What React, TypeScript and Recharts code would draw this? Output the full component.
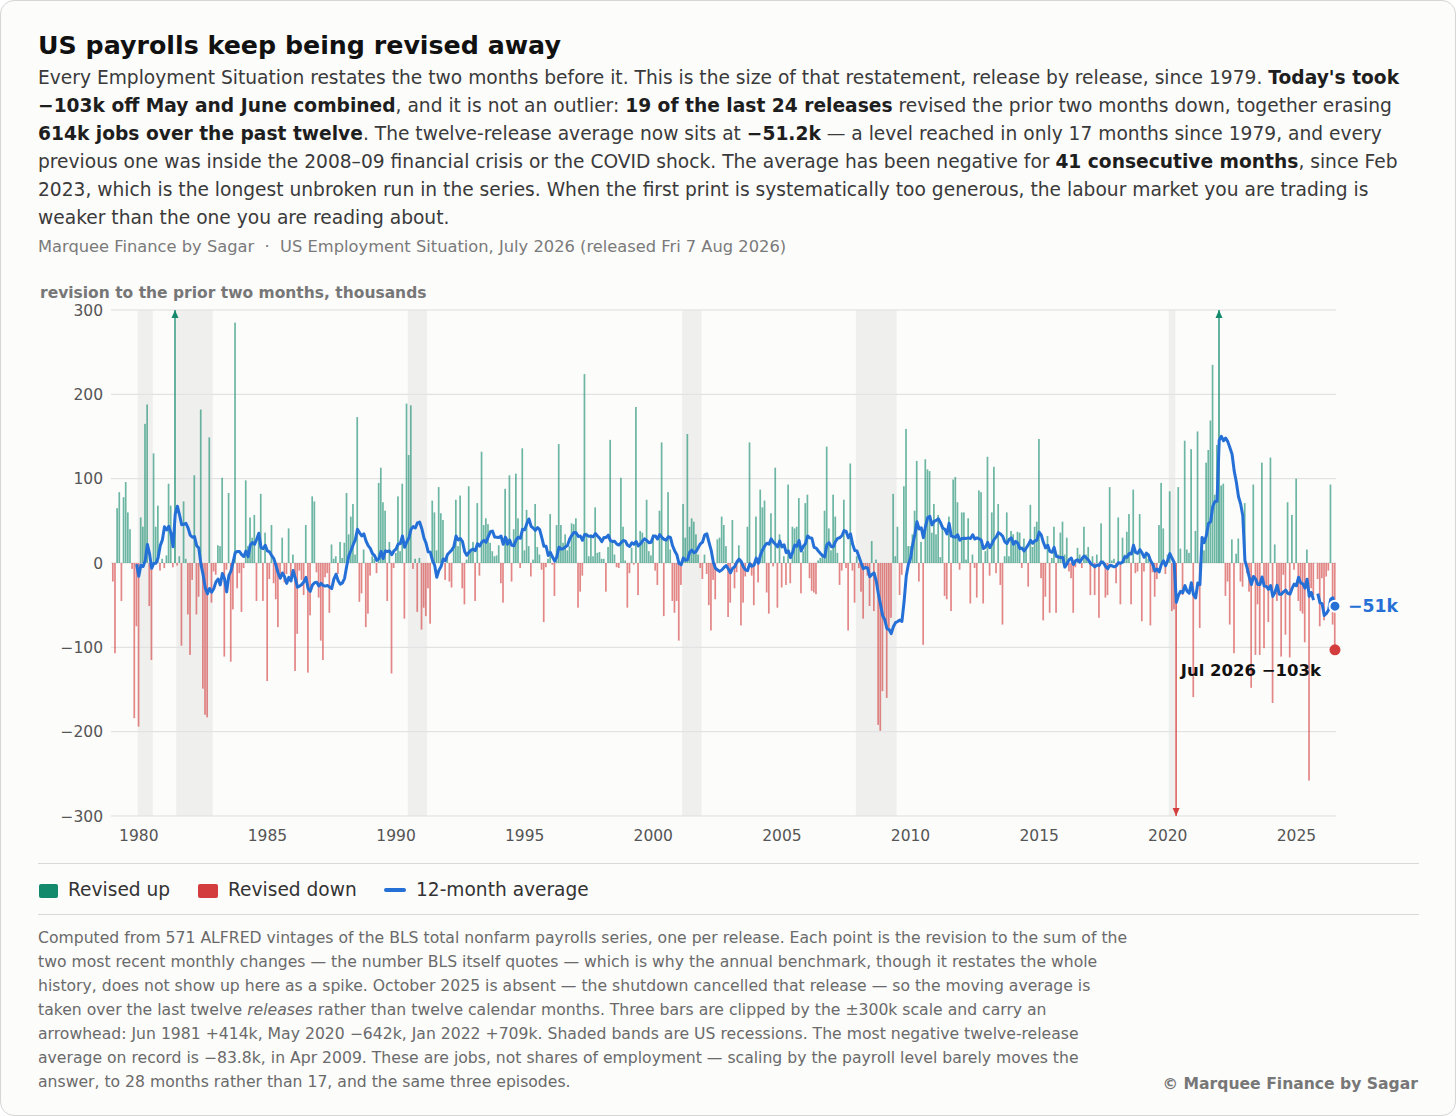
import React from 'react';
import {
  ComposedChart,
  Bar,
  Line,
  XAxis,
  YAxis,
  CartesianGrid,
  ReferenceArea,
  ReferenceDot,
} from 'recharts';

// Revision to the prior two months (thousands), one value per release month, Jan..Dec
const FIRST_YEAR = 1979;
const y1979 = [-22, -107, 65, 84, -45, 78, 96, 60, 40, -7, -184, -75];
const y1980 = [-194, 54, 43, 165, 188, -51, -115, 130, 43, 68, -9, 5];
const y1981 = [-6, 9, 94, 68, -5, 414, -3, 8, -98, 73, 5, -61];
const y1982 = [-109, -20, 104, -61, -40, 182, -149, -180, -183, 149, -47, -10];
const y1983 = [-14, 21, 20, 101, -111, -8, 83, -117, -55, 285, -30, -12];
const y1984 = [-58, -6, 98, 20, 54, 30, 57, -45, 30, 82, -45, 36];
const y1985 = [-140, -19, 45, -24, -43, -76, -18, 30, -23, -13, 41, -16];
const y1986 = [10, -128, -84, -9, -20, -38, 45, -130, -62, 79, 73, -11];
const y1987 = [-41, -92, -115, -17, -12, -59, 22, 5, 8, -13, 25, 6];
const y1988 = [24, 83, 34, 55, 70, 10, 173, -46, -36, 16, -76, -60];
const y1989 = [-15, 8, 5, -12, 95, 113, 72, 62, -45, 25, -131, -6];
const y1990 = [12, 79, 14, 94, -66, 189, 128, 187, -7, 5, -58, 6];
const y1991 = [-79, -53, -63, -30, -72, 74, 60, 15, 90, 59, 51, -20];
const y1992 = [10, -22, -29, 20, 75, 20, 80, -30, -49, 4, 91, 13];
const y1993 = [25, -45, 71, -15, 132, 45, 53, 46, 24, 14, 8, 9];
const y1994 = [21, -24, -47, 88, 30, 104, -22, 40, 106, 53, -6, 136];
const y1995 = [15, 63, 20, -16, 4, 70, 19, 10, -8, -70, -5, 5];
const y1996 = [58, -2, -39, 45, 141, 45, 24, 34, 15, 20, 47, 46];
const y1997 = [53, -53, -34, -15, 224, 36, 8, 34, 8, 66, 12, 13];
const y1998 = [5, 5, -34, 19, 146, 24, 10, -5, -6, 101, 43, 3];
const y1999 = [-53, -12, 18, -2, 185, -38, 38, 36, 25, 75, 14, 9];
const y2000 = [34, -9, -26, 62, 143, -63, 26, 84, 16, -45, -59, -45];
const y2001 = [-92, -26, 70, 30, 153, 43, 53, 49, 34, 10, -6, -19];
const y2002 = [10, -13, -50, -80, -20, -43, 28, 30, 55, 45, 20, -64];
const y2003 = [-47, 51, -30, -11, 21, -74, -47, -16, 43, 143, -15, -50];
const y2004 = [55, -23, 87, 66, 74, -35, -60, 59, -4, 113, -53, 34];
const y2005 = [-29, 8, -26, 93, -24, 43, 41, 43, 77, -36, 14, 71];
const y2006 = [81, -18, -33, -35, -37, 3, 6, 10, 62, 138, 41, 15];
const y2007 = [81, 55, 12, -26, -9, 75, -6, -80, 118, -9, -47, 8];
const y2008 = [-6, -34, -66, -7, -15, -51, 26, -57, 4, -192, -199, -152];
const y2009 = [-65, -160, -79, -65, 82, 8, 43, -38, -14, 91, 159, 20];
const y2010 = [20, 34, 62, 121, -22, 25, -97, 123, 111, 109, 36, 70];
const y2011 = [34, 57, 7, 45, -39, -43, 55, -57, 99, 102, 72, -8];
const y2012 = [60, 60, 4, 53, -48, 10, -6, -41, 86, 84, -48, 14];
const y2013 = [126, -15, 60, 114, -12, 70, -26, -73, 8, 60, 8, 38];
const y2014 = [34, 26, 37, 36, -6, 29, 19, -28, 69, 19, 43, 49];
const y2015 = [147, -18, -68, -40, 32, -59, 6, 43, -59, 10, 36, 49];
const y2016 = [10, 30, -10, -18, -59, -5, 18, 10, -6, 43, 10, 19];
const y2017 = [-38, 8, -38, 10, -65, 47, 3, -41, -38, 90, 3, 5];
const y2018 = [-24, 54, -49, 30, 10, 37, 58, -49, 87, -12, -10, 58];
const y2019 = [-69, -10, 10, 5, -74, -11, -40, -19, 45, 95, 41, -13];
const y2020 = [10, 85, -57, -55, -642, 90, 17, -38, 145, 16, 12, 135];
const y2021 = [-159, 38, 156, -77, 29, 15, 119, 134, 169, 235, 81, 140];
const y2022 = [709, 92, 94, -39, -22, -73, 28, -107, 11, 29, -22, -28];
const y2023 = [71, -12, -34, -148, 93, -109, -49, -109, 119, -101, -26, -70];
const y2024 = [125, -166, 22, -45, -34, -111, -14, -85, 72, -112, 57, -8];
const y2025 = [100, -45, -57, -60, -94, 16, -258, -30, -38, null, -19, -75];
const y2026 = [-18, -68, -16, -9, 93, -73, -103];

const yearRows: (number | null)[][] = [
  y1979, y1980, y1981, y1982, y1983, y1984, y1985, y1986, y1987, y1988, y1989,
  y1990, y1991, y1992, y1993, y1994, y1995, y1996, y1997, y1998, y1999,
  y2000, y2001, y2002, y2003, y2004, y2005, y2006, y2007, y2008, y2009,
  y2010, y2011, y2012, y2013, y2014, y2015, y2016, y2017, y2018, y2019,
  y2020, y2021, y2022, y2023, y2024, y2025, y2026,
];

const xTicks = [1980, 1985, 1990, 1995, 2000, 2005, 2010, 2015, 2020, 2025];
const yTicks = [-300, -200, -100, 0, 100, 200, 300];
const CLIP = 300;
const WINDOW = 12;

// US recessions (peak month, trough month)
const recessionStarts = ['1980-01', '1981-07', '1990-07', '2001-03', '2007-12', '2020-02'];
const recessionEnds = ['1980-07', '1982-11', '1991-03', '2001-11', '2009-06', '2020-04'];

const LATEST_LABEL = 'Jul 2026';

const GREEN = '#138a6c';
const RED = '#d43d3d';
const BLUE = '#2470d6';
const FONT = '"DejaVu Sans", Verdana, sans-serif';

const toT = (s: string) => {
  const [y, m] = s.split('-').map(Number);
  return y + (m - 1) / 12;
};

// Build the table: each release month with its value and twelve-release average
type Row = { t: number; v: number | null; avg: number | null };
const table: Row[] = [];
{
  const seen: number[] = [];
  yearRows.forEach((row, yi) => {
    row.forEach((v, mi) => {
      const t = FIRST_YEAR + yi + mi / 12;
      let avg: number | null = null;
      if (v !== null) {
        seen.push(v);
        if (seen.length >= WINDOW) {
          const last = seen.slice(-WINDOW);
          avg = last.reduce((a, b) => a + b, 0) / WINDOW;
        }
      }
      table.push({ t, v, avg });
    });
  });
}
const lastRow = table[table.length - 1];

const clampV = (d: Row) => (d.v === null ? null : Math.max(-CLIP, Math.min(CLIP, d.v)));

const fmtY = (v: number) => (v < 0 ? '\u2212' + Math.abs(v) : String(v));

const BarShape = (props: any) => {
  const { x, y, width, height, payload } = props;
  if (!payload || payload.v === null || payload.v === undefined) return null;
  if (![x, y, width, height].every((n) => Number.isFinite(n))) return null;
  const top = Math.min(y, y + height);
  const h = Math.abs(height);
  const up = payload.v >= 0;
  const col = up ? GREEN : RED;
  const clipped = Math.abs(payload.v) > CLIP;
  const cx = x + width / 2;
  return (
    <g>
      <rect x={x} y={top} width={width} height={h} fill={col} fillOpacity={clipped ? 0.75 : 0.62} />
      {clipped &&
        (up ? (
          <path d={`M${cx - 3.5},${top + 8} L${cx},${top} L${cx + 3.5},${top + 8} Z`} fill={col} />
        ) : (
          <path
            d={`M${cx - 3.5},${top + h - 8} L${cx},${top + h} L${cx + 3.5},${top + h - 8} Z`}
            fill={col}
          />
        ))}
    </g>
  );
};

const AvgDot = (props: any) => {
  const { cx, cy } = props;
  if (!Number.isFinite(cx) || !Number.isFinite(cy)) return null;
  const k = Math.round(lastRow.avg as number);
  return (
    <g>
      <circle cx={cx} cy={cy} r={5.5} fill={BLUE} stroke="#ffffff" strokeWidth={2} />
      <text x={cx + 13} y={cy} dy="0.36em" fill={BLUE} fontSize={17.3} fontWeight="bold" fontFamily={FONT}>
        {fmtY(k) + 'k'}
      </text>
    </g>
  );
};

const LatestDot = (props: any) => {
  const { cx, cy } = props;
  if (!Number.isFinite(cx) || !Number.isFinite(cy)) return null;
  return (
    <g>
      <circle cx={cx} cy={cy} r={5.5} fill={RED} />
      <text
        x={cx - 14}
        y={cy + 20}
        dy="0.36em"
        textAnchor="end"
        fill="#111"
        fontSize={16.5}
        fontWeight="bold"
        fontFamily={FONT}
      >
        {LATEST_LABEL + ' ' + fmtY(lastRow.v as number) + 'k'}
      </text>
    </g>
  );
};

const B = ({ children }: { children: React.ReactNode }) => (
  <b style={{ color: '#1e1e1e' }}>{children}</b>
);

const bodyLines: React.ReactNode[] = [
  <>
    Every Employment Situation restates the two months before it. This is the size of that restatement, release by release, since 1979. <B>Today's took</B>
  </>,
  <>
    <B>{'\u2212'}103k off May and June combined</B>, and it is not an outlier: <B>19 of the last 24 releases</B> revised the prior two months down, together erasing
  </>,
  <>
    <B>614k jobs over the past twelve</B>. The twelve-release average now sits at <B>{'\u2212'}51.2k</B> — a level reached in only 17 months since 1979, and every
  </>,
  <>
    previous one was inside the 2008–09 financial crisis or the COVID shock. The average has been negative for <B>41 consecutive months</B>, since Feb
  </>,
  <>2023, which is the longest unbroken run in the series. When the first print is systematically too generous, the labour market you are trading is</>,
  <>weaker than the one you are reading about.</>,
];

const noteLines: React.ReactNode[] = [
  <>Computed from 571 ALFRED vintages of the BLS total nonfarm payrolls series, one per release. Each point is the revision to the sum of the</>,
  <>two most recent monthly changes — the number BLS itself quotes — which is why the annual benchmark, though it restates the whole</>,
  <>history, does not show up here as a spike. October 2025 is absent — the shutdown cancelled that release — so the moving average is</>,
  <>
    taken over the last twelve <i>releases</i> rather than twelve calendar months. Three bars are clipped by the ±300k scale and carry an
  </>,
  <>arrowhead: Jun 1981 +414k, May 2020 {'\u2212'}642k, Jan 2022 +709k. Shaded bands are US recessions. The most negative twelve-release</>,
  <>average on record is {'\u2212'}83.8k, in Apr 2009. These are jobs, not shares of employment — scaling by the payroll level barely moves the</>,
  <>answer, to 28 months rather than 17, and the same three episodes.</>,
];

const abs = (left: number, top: number, extra: React.CSSProperties = {}): React.CSSProperties => ({
  position: 'absolute',
  left,
  top,
  whiteSpace: 'nowrap',
  ...extra,
});

export default function App() {
  return (
    <div
      style={{
        position: 'absolute',
        left: 0,
        top: 0,
        width: 1456,
        height: 1116,
        boxSizing: 'border-box',
        border: '1px solid #d6d6d6',
        borderRadius: 14,
        background: '#fcfcfb',
        fontFamily: FONT,
        overflow: 'hidden',
      }}
    >
      <div style={abs(37, 29, { fontSize: 25.3, lineHeight: '32px', fontWeight: 'bold', color: '#111' })}>
        US payrolls keep being revised away
      </div>
      {bodyLines.map((ln, i) => (
        <div key={i} style={abs(37, 63 + i * 28, { fontSize: 18.65, lineHeight: '28px', color: '#3a3a3a' })}>
          {ln}
        </div>
      ))}
      <div style={abs(37, 236, { fontSize: 16.3, lineHeight: '20px', color: '#7a7a7a' })}>
        Marquee Finance by Sagar{'\u00a0\u00a0·\u00a0\u00a0'}US Employment Situation, July 2026 (released Fri 7 Aug 2026)
      </div>
      <div style={abs(39, 283, { fontSize: 15.5, lineHeight: '18px', color: '#777', fontWeight: 'bold' })}>
        revision to the prior two months, thousands
      </div>

      <div style={{ position: 'absolute', left: 0, top: 270 }}>
        <ComposedChart
          width={1456}
          height={590}
          data={table}
          margin={{ top: 39, right: 121, bottom: 15, left: 50 }}
          barGap={0}
        >
          <CartesianGrid vertical={false} stroke="#dddddd" strokeWidth={1} />
          {recessionStarts.map((s, i) => (
            <ReferenceArea
              key={s}
              x1={toT(s) - 1 / 24}
              x2={toT(recessionEnds[i]) + 1 / 24}
              y1={-CLIP}
              y2={CLIP}
              fill="#e4e4e4"
              fillOpacity={0.55}
              stroke="none"
              ifOverflow="hidden"
            />
          ))}
          <XAxis
            type="number"
            dataKey="t"
            domain={[1978.92, 2026.54]}
            ticks={xTicks}
            interval={0}
            allowDataOverflow
            tickLine={false}
            axisLine={false}
            tickMargin={8}
            tick={{ fill: '#555', fontSize: 15.5 }}
            tickFormatter={(v: number) => String(v)}
          />
          <YAxis
            type="number"
            domain={[-CLIP, CLIP]}
            ticks={yTicks}
            interval={0}
            allowDataOverflow
            width={60}
            tickLine={false}
            axisLine={false}
            tick={{ fill: '#555', fontSize: 15.5 }}
            tickFormatter={fmtY}
          />
          <Bar dataKey={clampV} barSize={1.7} shape={BarShape} isAnimationActive={false} />
          <Line
            dataKey="avg"
            type="linear"
            stroke={BLUE}
            strokeWidth={3}
            dot={false}
            activeDot={false}
            connectNulls={false}
            strokeLinejoin="round"
            isAnimationActive={false}
          />
          <ReferenceDot x={lastRow.t} y={lastRow.v as number} r={5.5} shape={LatestDot} ifOverflow="visible" />
          <ReferenceDot x={lastRow.t} y={lastRow.avg as number} r={5.5} shape={AvgDot} ifOverflow="visible" />
        </ComposedChart>
      </div>

      <div style={{ position: 'absolute', left: 37, top: 862, width: 1381, height: 1, background: '#d9d9d9' }} />
      <div style={{ position: 'absolute', left: 38, top: 883, width: 19, height: 14, background: GREEN, borderRadius: 2 }} />
      <div style={abs(67, 879, { fontSize: 18.6, lineHeight: '20px', color: '#333' })}>Revised up</div>
      <div style={{ position: 'absolute', left: 197, top: 883, width: 20, height: 14, background: RED, borderRadius: 2 }} />
      <div style={abs(227, 879, { fontSize: 18.6, lineHeight: '20px', color: '#333' })}>Revised down</div>
      <div style={{ position: 'absolute', left: 383, top: 887, width: 22, height: 4, background: BLUE, borderRadius: 2 }} />
      <div style={abs(415, 879, { fontSize: 18.6, lineHeight: '20px', color: '#333' })}>12-month average</div>
      <div style={{ position: 'absolute', left: 37, top: 913, width: 1381, height: 1, background: '#d9d9d9' }} />

      {noteLines.map((ln, i) => (
        <div key={i} style={abs(37, 925 + i * 24, { fontSize: 15.65, lineHeight: '24px', color: '#6a6a6a' })}>
          {ln}
        </div>
      ))}
      <div
        style={{
          position: 'absolute',
          right: 37,
          top: 1073,
          fontSize: 15.6,
          lineHeight: '20px',
          color: '#777',
          fontWeight: 'bold',
          whiteSpace: 'nowrap',
        }}
      >
        © Marquee Finance by Sagar
      </div>
    </div>
  );
}
